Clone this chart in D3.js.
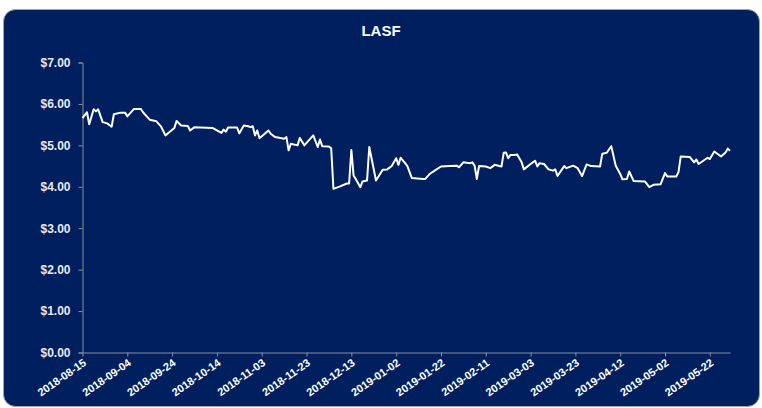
<!DOCTYPE html>
<html>
<head>
<meta charset="utf-8">
<script src="https://cdn.jsdelivr.net/npm/d3@7"></script>
<style>
    html, body { margin: 0; padding: 0; background: #ffffff; }
    svg { display: block; font-family: "Liberation Sans", Arial, sans-serif; }
</style>
</head>
<body>
<svg id="chart" width="762" height="408"></svg>
<script>
// LASF closing price
const dates = [
    '2018-08-15', '2018-08-17', '2018-08-18', '2018-08-20', '2018-08-21', '2018-08-22', '2018-08-24',
    '2018-08-26', '2018-08-28', '2018-08-29', '2018-09-01', '2018-09-03', '2018-09-04', '2018-09-07',
    '2018-09-10', '2018-09-11', '2018-09-14', '2018-09-17', '2018-09-19', '2018-09-21', '2018-09-23',
    '2018-09-25', '2018-09-26', '2018-09-28', '2018-10-01', '2018-10-02', '2018-10-04', '2018-10-12',
    '2018-10-16', '2018-10-17', '2018-10-18', '2018-10-19', '2018-10-23', '2018-10-24', '2018-10-26',
    '2018-10-28', '2018-10-29', '2018-10-30', '2018-10-31', '2018-11-01', '2018-11-02', '2018-11-06',
    '2018-11-07', '2018-11-09', '2018-11-13', '2018-11-14', '2018-11-15', '2018-11-16', '2018-11-19',
    '2018-11-20', '2018-11-22', '2018-11-26', '2018-11-28', '2018-11-29', '2018-11-30', '2018-12-03',
    '2018-12-04', '2018-12-05', '2018-12-08', '2018-12-11', '2018-12-12', '2018-12-13', '2018-12-14',
    '2018-12-15', '2018-12-17', '2018-12-18', '2018-12-20', '2018-12-21', '2018-12-24', '2018-12-27',
    '2018-12-29', '2018-12-31', '2019-01-02', '2019-01-03', '2019-01-04', '2019-01-06', '2019-01-07',
    '2019-01-09', '2019-01-14', '2019-01-15', '2019-01-17', '2019-01-18', '2019-01-22', '2019-01-26',
    '2019-01-29', '2019-01-30', '2019-02-01', '2019-02-04', '2019-02-05', '2019-02-06', '2019-02-07',
    '2019-02-08', '2019-02-11', '2019-02-13', '2019-02-15', '2019-02-17', '2019-02-18', '2019-02-19',
    '2019-02-20', '2019-02-21', '2019-02-22', '2019-02-24', '2019-02-25', '2019-02-27', '2019-02-28',
    '2019-03-03', '2019-03-05', '2019-03-06', '2019-03-07', '2019-03-09', '2019-03-11', '2019-03-13',
    '2019-03-14', '2019-03-15', '2019-03-18', '2019-03-19', '2019-03-22', '2019-03-24', '2019-03-26',
    '2019-03-28', '2019-03-30', '2019-04-03', '2019-04-04', '2019-04-06', '2019-04-08', '2019-04-10',
    '2019-04-12', '2019-04-13', '2019-04-15', '2019-04-16', '2019-04-18', '2019-04-23', '2019-04-25',
    '2019-04-27', '2019-04-30', '2019-05-02', '2019-05-03', '2019-05-07', '2019-05-08', '2019-05-09',
    '2019-05-13', '2019-05-15', '2019-05-16', '2019-05-17', '2019-05-21', '2019-05-22', '2019-05-24',
    '2019-05-27', '2019-05-29', '2019-05-30', '2019-05-31'
];

const prices = [
    5.66, 5.80, 5.51, 5.87, 5.82, 5.87, 5.56,
    5.53, 5.45, 5.75, 5.79, 5.79, 5.70, 5.88,
    5.88, 5.80, 5.62, 5.58, 5.46, 5.24, 5.33,
    5.42, 5.59, 5.48, 5.47, 5.36, 5.44, 5.42,
    5.30, 5.38, 5.33, 5.43, 5.43, 5.29, 5.48,
    5.46, 5.44, 5.46, 5.24, 5.36, 5.17, 5.36,
    5.28, 5.20, 5.16, 5.20, 4.88, 5.04, 5.00,
    5.18, 5.00, 5.24, 4.96, 5.14, 4.98, 4.97,
    4.93, 3.95, 4.01, 4.08, 4.08, 4.89, 4.27,
    4.18, 3.99, 4.13, 4.15, 4.96, 4.15, 4.41,
    4.42, 4.50, 4.69, 4.53, 4.70, 4.57, 4.50,
    4.21, 4.19, 4.19, 4.31, 4.35, 4.49, 4.50,
    4.51, 4.47, 4.59, 4.57, 4.59, 4.51, 4.19,
    4.50, 4.49, 4.45, 4.53, 4.50, 4.49, 4.82,
    4.83, 4.69, 4.77, 4.77, 4.78, 4.59, 4.42,
    4.55, 4.63, 4.49, 4.57, 4.55, 4.42, 4.39,
    4.42, 4.26, 4.50, 4.45, 4.51, 4.45, 4.26,
    4.54, 4.50, 4.49, 4.80, 4.82, 4.98, 4.51,
    4.31, 4.18, 4.19, 4.37, 4.14, 4.13, 3.99,
    4.05, 4.06, 4.33, 4.25, 4.25, 4.35, 4.73,
    4.72, 4.59, 4.66, 4.55, 4.70, 4.67, 4.85,
    4.73, 4.83, 4.92, 4.87
];

const xTickLabels = [
    '2018-08-15', '2018-09-04', '2018-09-24', '2018-10-14', '2018-11-03',
    '2018-11-23', '2018-12-13', '2019-01-02', '2019-01-22', '2019-02-11',
    '2019-03-03', '2019-03-23', '2019-04-12', '2019-05-02', '2019-05-22'
];

const yTicks = [0, 1, 2, 3, 4, 5, 6, 7];

const chartTitle = 'LASF';

// --- drawing ---
const parseDate = d3.utcParse('%Y-%m-%d');
const series = dates.map((d, i) => ({ date: parseDate(d), value: prices[i] }));

const svg = d3.select('#chart');
const bg = '#001f5f';

// rounded panel
svg.append('rect')
    .attr('x', 3.5)
    .attr('y', 9.5)
    .attr('width', 756)
    .attr('height', 397)
    .attr('rx', 12)
    .attr('fill', bg)
    .attr('stroke', '#a0a4ad')
    .attr('stroke-width', 1);

const plot = { left: 82.5, right: 730, top: 62.5, bottom: 352.5 };

const x = d3.scaleUtc()
    .domain(d3.extent(series, d => d.date))
    .range([plot.left, plot.right]);

const y = d3.scaleLinear()
    .domain([0, 7])
    .range([plot.bottom, plot.top]);

// title
svg.append('text')
    .attr('x', 381)
    .attr('y', 36)
    .attr('text-anchor', 'middle')
    .attr('fill', '#ffffff')
    .attr('font-size', 15)
    .attr('font-weight', 'bold')
    .text(chartTitle);

// y axis
const yAxis = svg.append('g')
    .attr('transform', `translate(${plot.left},0)`)
    .call(d3.axisLeft(y)
        .tickValues(yTicks)
        .tickSize(4)
        .tickPadding(8)
        .tickFormat(d => '$' + d3.format('.2f')(d)));

yAxis.select('.domain').attr('stroke', '#8a8f99');
yAxis.selectAll('.tick line').attr('stroke', '#8a8f99');
yAxis.selectAll('.tick text')
    .attr('fill', '#e8e8ee')
    .attr('font-size', 12)
    .attr('font-weight', 'bold')
    .attr('font-family', '"Liberation Sans", Arial, sans-serif');

// x axis
const xAxis = svg.append('g')
    .attr('transform', `translate(0,${plot.bottom})`)
    .call(d3.axisBottom(x)
        .tickValues(xTickLabels.map(parseDate))
        .tickSize(4)
        .tickSizeOuter(0)
        .tickFormat(d3.utcFormat('%Y-%m-%d')));

xAxis.select('.domain').attr('stroke', '#8a8f99');
xAxis.selectAll('.tick line').attr('stroke', '#8a8f99');
xAxis.selectAll('.tick text')
    .attr('fill', '#ffffff')
    .attr('font-size', 11)
    .attr('font-weight', 'bold')
    .attr('font-family', '"Liberation Sans", Arial, sans-serif')
    .attr('text-anchor', 'end')
    .attr('dy', null)
    .attr('y', 0)
    .attr('transform', 'translate(4,12) rotate(-35)');

// price line
const line = d3.line()
    .x(d => x(d.date))
    .y(d => y(d.value));

svg.append('path')
    .datum(series)
    .attr('fill', 'none')
    .attr('stroke', '#ffffff')
    .attr('stroke-width', 2)
    .attr('stroke-linejoin', 'round')
    .attr('d', line);
</script>
</body>
</html>
